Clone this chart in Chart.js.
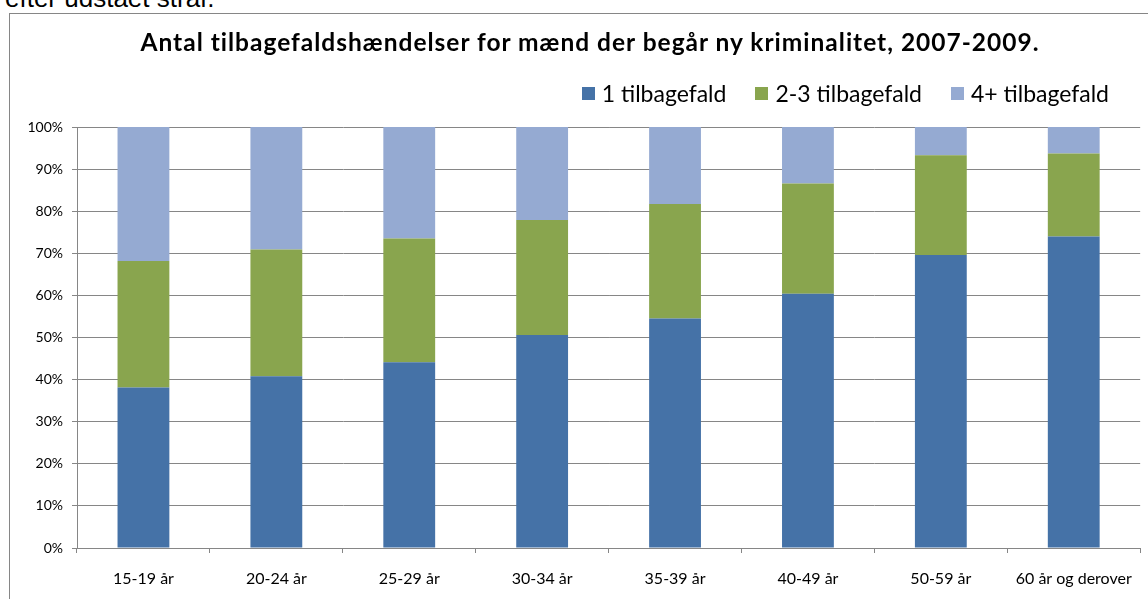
<!DOCTYPE html>
<html>
<head>
<meta charset="utf-8">
<script src="https://cdn.jsdelivr.net/npm/chart.js@4"></script>
<style>
  html, body { margin: 0; padding: 0; background: #fff; overflow: hidden; }
  #wrap { position: relative; width: 1148px; height: 599px; overflow: hidden; }
  #cut { position: absolute; left: 5px; top: -15px; font: 26px/26px "Liberation Sans", Arial, sans-serif; color: #000; white-space: nowrap; }
  #frame { position: absolute; left: 9px; top: 13px; width: 1200px; height: 700px; border: 1px solid #868686; box-sizing: border-box; }
  #c { position: absolute; left: 0; top: 0; }
  #title { position: absolute; left: 0; width: 1180px; top: 27px; text-align: center; font: bold 24.5px/30px Lato, sans-serif; letter-spacing: 1px; color: #000; white-space: nowrap; }
  #legend { position: absolute; right: 39px; top: 80px; display: flex; gap: 29px; font: 23px/26px Lato, sans-serif; color: #000; }
  #legend span.item { display: flex; align-items: center; }
  #legend i { display: inline-block; width: 13px; height: 13px; margin-right: 7px; }
</style>
</head>
<body>
<div id="wrap">
  <div id="cut">efter udstået straf.</div>
  <div id="frame"></div>
  <canvas id="c" width="1148" height="599"></canvas>
  <div id="title">Antal tilbagefaldshændelser for mænd der begår ny kriminalitet, 2007-2009.</div>
  <div id="legend"></div>
</div>
<script>
var categories = ['15-19 år', '20-24 år', '25-29 år', '30-34 år', '35-39 år', '40-49 år', '50-59 år', '60 år og derover'];
var seriesNames = ['1 tilbagefald', '2-3 tilbagefald', '4+ tilbagefald'];
var seriesColors = ['#4572A7', '#89A54E', '#95AAD2'];
// andel i procent
var oneRelapse = [38.1, 40.8, 44.1, 50.6, 54.5, 60.4, 69.6, 74.0];
var twoThreeRelapse = [30.1, 30.1, 29.4, 27.3, 27.2, 26.2, 23.7, 19.7];
var fourPlusRelapse = [31.8, 29.1, 26.5, 22.1, 18.3, 13.4, 6.7, 6.3];

var gridColor = '#868686';

var legend = document.getElementById('legend');
seriesNames.forEach(function(name, i){
  var item = document.createElement('span');
  item.className = 'item';
  item.innerHTML = '<i style="background:' + seriesColors[i] + '"></i>' + name;
  legend.appendChild(item);
});

var seriesData = [oneRelapse, twoThreeRelapse, fourPlusRelapse];
var datasets = [];
for (var i = 0; i < seriesNames.length; i++){
  datasets.push({
    label: seriesNames[i],
    data: seriesData[i],
    backgroundColor: seriesColors[i],
    borderWidth: 0,
    categoryPercentage: 1,
    barPercentage: 0.39
  });
}

var chart = new Chart(document.getElementById('c'), {
  type: 'bar',
  data: { labels: categories, datasets: datasets },
  options: {
    responsive: false,
    animation: false,
    devicePixelRatio: 1,
    layout: { padding: { top: 127, right: 4, left: 0, bottom: 0 } },
    plugins: {
      legend: { display: false },
      title: { display: false },
      tooltip: { enabled: false }
    },
    scales: {
      x: {
        stacked: true,
        grid: { offset: true, drawOnChartArea: false, drawTicks: true, tickLength: 5, color: gridColor },
        border: { color: gridColor },
        ticks: { color: '#000', font: { family: 'Lato', size: 16 }, padding: 16, maxRotation: 0 },
        afterFit: function(s){ s.height = 51; }
      },
      y: {
        stacked: true,
        min: 0,
        max: 100,
        grid: { color: gridColor, tickLength: 5 },
        border: { color: gridColor },
        ticks: { stepSize: 10, color: '#000', font: { family: 'Lato', size: 14 }, padding: 9, callback: function(v){ return v + '%'; } },
        afterFit: function(s){ s.width = 77; }
      }
    }
  }
});
</script>
</body>
</html>
